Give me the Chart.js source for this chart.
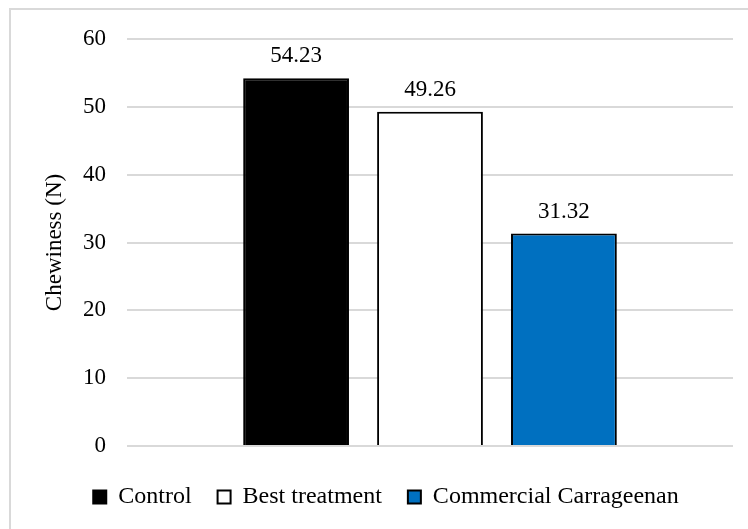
<!DOCTYPE html>
<html>
<head>
<meta charset="utf-8">
<script src="https://cdn.jsdelivr.net/npm/chart.js@4.4.1/dist/chart.umd.min.js"></script>
<style>
  body { margin: 0; background: #fff; }
</style>
</head>
<body>
<canvas id="chewiness-chart" width="748" height="529"></canvas>
<script>
const categories = [''];
const seriesNames = ['Control', 'Best treatment', 'Commercial Carrageenan'];
const seriesValues = [[54.23], [49.26], [31.32]];
const seriesColors = ['#000000', '#ffffff', '#0070c0'];
const yTicks = [0, 10, 20, 30, 40, 50, 60];

const fontFamily = "'Liberation Serif', 'Times New Roman', serif";

// grey frame around the chart, like the excel chart area
const frame = {
  id: 'frame',
  beforeDraw(chart) {
    const ctx = chart.ctx;
    ctx.save();
    ctx.fillStyle = '#fff';
    ctx.fillRect(0, 0, chart.width, chart.height);
    ctx.strokeStyle = '#d9d9d9';
    ctx.lineWidth = 2;
    ctx.strokeRect(10, 9, 900, 900);
    ctx.restore();
  }
};

// value above each bar
const valueLabels = {
  id: 'valueLabels',
  afterDatasetsDraw(chart) {
    const ctx = chart.ctx;
    ctx.save();
    ctx.font = '23px ' + fontFamily;
    ctx.fillStyle = '#000';
    ctx.textAlign = 'center';
    ctx.textBaseline = 'alphabetic';
    chart.data.datasets.forEach((ds, i) => {
      chart.getDatasetMeta(i).data.forEach((bar, j) => {
        ctx.fillText(ds.data[j].toFixed(2), bar.x, bar.y - 16);
      });
    });
    ctx.restore();
  }
};

const datasets = seriesNames.map((name, i) => ({
  label: name,
  data: seriesValues[i],
  backgroundColor: seriesColors[i],
  borderColor: '#000000',
  borderWidth: 2,
  categoryPercentage: 0.663,
  barPercentage: 0.79
}));

new Chart(document.getElementById('chewiness-chart'), {
  type: 'bar',
  data: { labels: categories, datasets: datasets },
  plugins: [frame, valueLabels],
  options: {
    responsive: false,
    animation: false,
    layout: { padding: { left: 39, right: 15, top: 39, bottom: 10 } },
    plugins: {
      tooltip: { enabled: false },
      legend: {
        position: 'bottom',
        labels: {
          color: '#000',
          font: { family: fontFamily, size: 24 },
          boxWidth: 13,
          boxHeight: 13,
          padding: 26
        }
      }
    },
    scales: {
      x: {
        grid: { display: false, drawTicks: false },
        border: { display: false },
        ticks: { display: false },
        afterFit: s => { s.height = 13; }
      },
      y: {
        min: 0,
        max: 60,
        afterBuildTicks: s => { s.ticks = yTicks.map(v => ({ value: v })); },
        afterFit: s => { s.width = 88; },
        grid: { color: '#d9d9d9', lineWidth: 2, drawTicks: false },
        border: { display: false },
        ticks: {
          color: '#000',
          padding: 21,
          font: { family: fontFamily, size: 23 }
        },
        title: {
          display: true,
          text: 'Chewiness (N)',
          color: '#000',
          padding: { top: 2, bottom: 0 },
          font: { family: fontFamily, size: 23 }
        }
      }
    }
  }
});
</script>
</body>
</html>
